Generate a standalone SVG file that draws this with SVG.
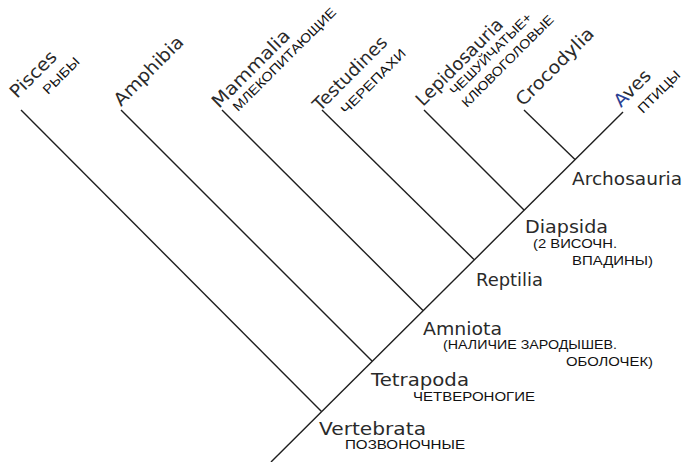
<svg xmlns="http://www.w3.org/2000/svg" width="684" height="462" viewBox="0 0 684 462">
<style>
.ln{stroke:#1e1e1e;stroke-width:1.4;fill:none;stroke-linecap:butt}
.lat{font-family:"DejaVu Sans",sans-serif;font-size:18px;fill:#2a2a2a}
.cyr{font-family:"Liberation Sans","DejaVu Sans",sans-serif;font-size:13px;fill:#111}
</style>
<rect width="684" height="462" fill="#ffffff"/>
<g id="connectors">
<line class="ln" x1="271" y1="462" x2="623" y2="112"/>
<line class="ln" x1="321.5" y1="411.5" x2="21" y2="110"/>
<line class="ln" x1="372" y1="361" x2="121" y2="110"/>
<line class="ln" x1="423" y1="310.5" x2="222" y2="110"/>
<line class="ln" x1="474" y1="259.5" x2="322" y2="110"/>
<line class="ln" x1="524" y1="210" x2="424" y2="110"/>
<line class="ln" x1="575" y1="159.5" x2="524" y2="110"/>
</g>
<g id="pisces">
<text class="lat" transform="translate(17,99) rotate(-45)" textLength="58" lengthAdjust="spacingAndGlyphs">Pisces</text>
<text class="cyr" transform="translate(48,95) rotate(-45)" textLength="46" lengthAdjust="spacingAndGlyphs">РЫБЫ</text>
</g>
<g id="amphibia">
<text class="lat" transform="translate(121,107) rotate(-45)" textLength="90" lengthAdjust="spacingAndGlyphs">Amphibia</text>
</g>
<g id="mammalia">
<text class="lat" transform="translate(219,109) rotate(-45)" textLength="102" lengthAdjust="spacingAndGlyphs">Mammalia</text>
<text class="cyr" transform="translate(238,112) rotate(-45)" textLength="140" lengthAdjust="spacingAndGlyphs">МЛЕКОПИТАЮЩИЕ</text>
</g>
<g id="testudines">
<text class="lat" transform="translate(320,112) rotate(-45)" textLength="97" lengthAdjust="spacingAndGlyphs">Testudines</text>
<text class="cyr" transform="translate(346,115) rotate(-45)" textLength="86" lengthAdjust="spacingAndGlyphs">ЧЕРЕПАХИ</text>
</g>
<g id="lepidosauria">
<text class="lat" transform="translate(423,107) rotate(-45)" textLength="115" lengthAdjust="spacingAndGlyphs">Lepidosauria</text>
<text class="cyr" transform="translate(455,96) rotate(-45)" textLength="110" lengthAdjust="spacingAndGlyphs">ЧЕШУЙЧАТЫЕ+</text>
<text class="cyr" transform="translate(467,108) rotate(-45)" textLength="124" lengthAdjust="spacingAndGlyphs">КЛЮВОГОЛОВЫЕ</text>
</g>
<g id="crocodylia">
<text class="lat" transform="translate(523,107) rotate(-45)" textLength="102" lengthAdjust="spacingAndGlyphs">Crocodylia</text>
</g>
<g id="aves">
<text class="lat" transform="translate(621,108) rotate(-45)" textLength="44" lengthAdjust="spacingAndGlyphs"><tspan fill="#2b3f93">A</tspan>ves</text>
<text class="cyr" transform="translate(643,114) rotate(-45)" textLength="54" lengthAdjust="spacingAndGlyphs">ПТИЦЫ</text>
</g>
<g id="archosauria">
<text class="lat" x="572" y="185" textLength="110" lengthAdjust="spacingAndGlyphs">Archosauria</text>
</g>
<g id="diapsida">
<text class="lat" x="525" y="233" textLength="83" lengthAdjust="spacingAndGlyphs">Diapsida</text>
<text class="cyr" x="533" y="248" textLength="84" lengthAdjust="spacingAndGlyphs">(2 ВИСОЧН.</text>
<text class="cyr" x="572" y="265" textLength="81" lengthAdjust="spacingAndGlyphs">ВПАДИНЫ)</text>
</g>
<g id="reptilia">
<text class="lat" x="476" y="285.5" textLength="67" lengthAdjust="spacingAndGlyphs">Reptilia</text>
</g>
<g id="amniota">
<text class="lat" x="423" y="334.5" textLength="79" lengthAdjust="spacingAndGlyphs">Amniota</text>
<text class="cyr" x="443" y="349" textLength="174" lengthAdjust="spacingAndGlyphs">(НАЛИЧИЕ ЗАРОДЫШЕВ.</text>
<text class="cyr" x="566" y="366" textLength="87" lengthAdjust="spacingAndGlyphs">ОБОЛОЧЕК)</text>
</g>
<g id="tetrapoda">
<text class="lat" x="371" y="386" textLength="98" lengthAdjust="spacingAndGlyphs">Tetrapoda</text>
<text class="cyr" x="413" y="401" textLength="122" lengthAdjust="spacingAndGlyphs">ЧЕТВЕРОНОГИЕ</text>
</g>
<g id="vertebrata">
<text class="lat" x="319" y="435" textLength="107" lengthAdjust="spacingAndGlyphs">Vertebrata</text>
<text class="cyr" x="345" y="449" textLength="120" lengthAdjust="spacingAndGlyphs">ПОЗВОНОЧНЫЕ</text>
</g>
</svg>
